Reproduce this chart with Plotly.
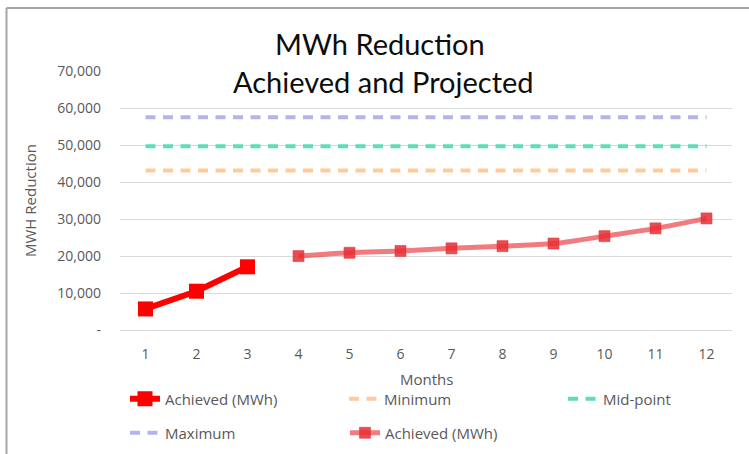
import plotly.graph_objects as go

# ---- data ----
months = [1, 2, 3, 4, 5, 6, 7, 8, 9, 10, 11, 12]
achieved_months = [1, 2, 3]
achieved_values = [5700, 10500, 17100]
projected_months = [4, 5, 6, 7, 8, 9, 10, 11, 12]
projected_values = [20000, 20900, 21400, 22100, 22700, 23400, 25400, 27500, 30200]
minimum_value = 43200
midpoint_value = 49700
maximum_value = 57600
y_tickvals = [0, 10000, 20000, 30000, 40000, 50000, 60000, 70000]
y_ticktext = ["-", "10,000", "20,000", "30,000", "40,000", "50,000", "60,000", "70,000"]
x_ticktext = [str(m) for m in months]

W, H = 749, 454
L, R, T, B = 120, 17, 71, 124
PW, PH = W - L - R, H - T - B


def px2x(px):
    return (px - L) / PW


def px2y(py):
    return (H - B - py) / PH


FONT = "Open Sans"
TXT = "#595959"
LEG_OFF = 40
DASH = "10px,7.5px"

fig = go.Figure()

fig.add_trace(go.Scatter(
    x=achieved_months, y=achieved_values, name="Achieved (MWh)",
    mode="lines+markers",
    line=dict(color="#FF0000", width=6),
    marker=dict(symbol="square", size=15, color="#FF0000"),
    legend="legend"))
fig.add_trace(go.Scatter(
    x=months, y=[minimum_value] * len(months), name="Minimum",
    mode="lines", line=dict(color="#FFCC99", width=4, dash=DASH),
    legend="legend2"))
fig.add_trace(go.Scatter(
    x=months, y=[midpoint_value] * len(months), name="Mid-point",
    mode="lines", line=dict(color="#5EDDB9", width=4, dash=DASH),
    legend="legend3"))
fig.add_trace(go.Scatter(
    x=months, y=[maximum_value] * len(months), name="Maximum",
    mode="lines", line=dict(color="#B4B4EC", width=4, dash=DASH),
    legend="legend4"))
fig.add_trace(go.Scatter(
    x=projected_months, y=projected_values, name="Achieved (MWh)",
    mode="lines+markers", line_shape="spline",
    line=dict(color="rgba(235,60,65,0.68)", width=5),
    marker=dict(symbol="square", size=11, color="rgba(232,45,50,0.85)",
                line=dict(color="rgba(225,60,65,0.6)", width=1)),
    legend="legend5"))


def leg(text_x, y_px):
    return dict(orientation="h", x=px2x(text_x - LEG_OFF), xanchor="left",
                y=px2y(y_px), yanchor="middle", font=dict(size=15, color=TXT),
                bgcolor="rgba(0,0,0,0)")


fig.update_layout(
    width=W, height=H,
    margin=dict(l=L, r=R, t=T, b=B, autoexpand=False),
    paper_bgcolor="white", plot_bgcolor="white",
    font=dict(family=FONT, size=14, color=TXT),
    showlegend=True,
    legend=leg(165, 399),
    legend2=leg(384, 399),
    legend3=leg(603, 399),
    legend4=leg(165, 433),
    legend5=leg(385, 433),
    xaxis=dict(range=[0.5, 12.5], tickvals=months, ticktext=x_ticktext,
               showgrid=False, zeroline=False, showline=True, linecolor="#D9D9D9",
               linewidth=1, ticks="", ticklabelstandoff=11, tickfont=dict(size=14, color=TXT)),
    yaxis=dict(range=[0, 70100], tickvals=y_tickvals, ticktext=y_ticktext,
               showgrid=True, gridcolor="#D9D9D9", gridwidth=1, zeroline=False,
               ticks="", ticklabelstandoff=18, tickfont=dict(size=14, color=TXT)),
    annotations=[
        dict(text="MWh Reduction", x=px2x(380), y=px2y(43), xref="paper", yref="paper",
             showarrow=False, font=dict(family="Lato", size=29, color="#0d0d0d"),
             xanchor="center", yanchor="middle"),
        dict(text="Achieved and Projected", x=px2x(383), y=px2y(81), xref="paper", yref="paper",
             showarrow=False, font=dict(family="Lato", size=29, color="#0d0d0d"),
             xanchor="center", yanchor="middle"),
        dict(text="MWH Reduction", x=px2x(30), y=px2y(201), xref="paper", yref="paper",
             showarrow=False, textangle=-90, font=dict(size=15, color=TXT),
             xanchor="center", yanchor="middle"),
        dict(text="Months", x=px2x(426), y=px2y(379), xref="paper", yref="paper",
             showarrow=False, font=dict(size=15, color=TXT),
             xanchor="center", yanchor="middle"),
    ],
    shapes=[
        dict(type="line", xref="paper", yref="paper", x0=px2x(6.5), x1=px2x(W + 2),
             y0=px2y(8), y1=px2y(8), line=dict(color="#A6A6A6", width=2)),
        dict(type="line", xref="paper", yref="paper", x0=px2x(6.5), x1=px2x(6.5),
             y0=px2y(8), y1=px2y(H + 2), line=dict(color="#A6A6A6", width=2)),
    ],
)

fig.write_html("out.html", config={"displayModeBar": False},
               post_script="document.body.style.margin='0';")
